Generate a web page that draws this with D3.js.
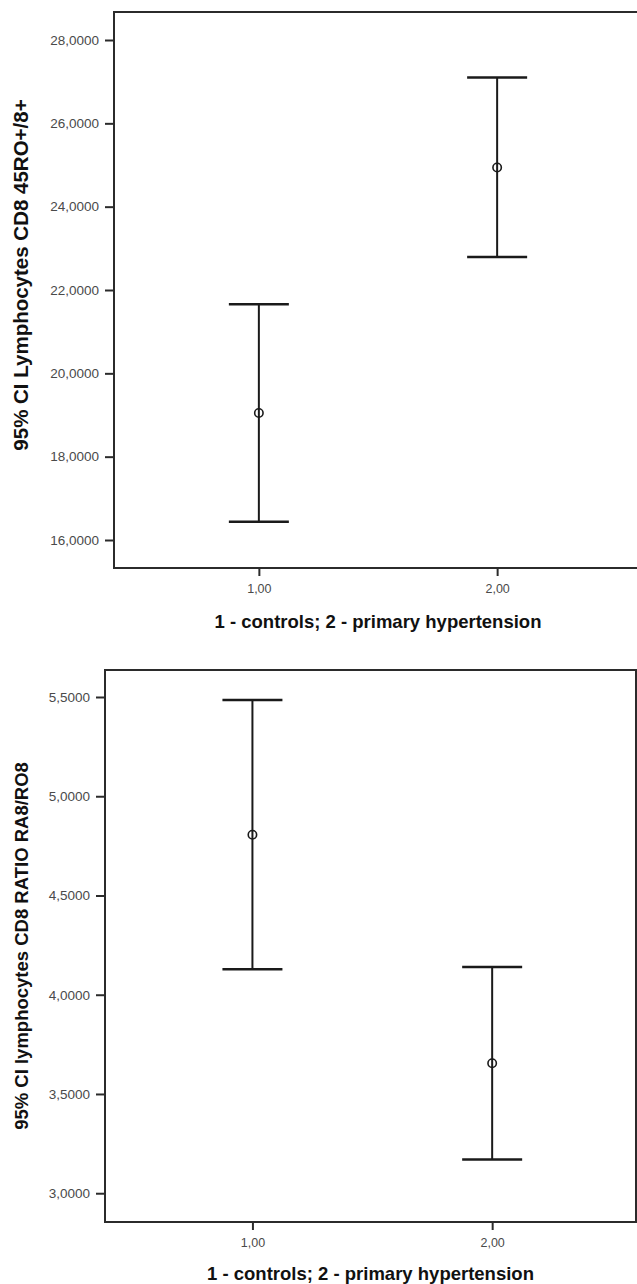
<!DOCTYPE html>
<html>
<head>
<meta charset="utf-8">
<script src="https://cdn.jsdelivr.net/npm/d3@7"></script>
<style>
  html, body { margin: 0; padding: 0; background: #ffffff; }
  svg { display: block; }
</style>
</head>
<body>
<svg id="chart" width="637" height="1284"></svg>
<script>
// ---------- data ----------
const categories = [1, 2];
const categoryLabels = ["1,00", "2,00"];
const xTitle = "1 - controls; 2 - primary hypertension";

// chart 1: 95% CI Lymphocytes CD8 45RO+/8+
const roTitle = "95% CI Lymphocytes CD8 45RO+/8+";
const roMean  = [19.05, 24.94];
const roLower = [16.44, 22.79];
const roUpper = [21.66, 27.10];
const roTicks = [16, 18, 20, 22, 24, 26, 28];

// chart 2: 95% CI lymphocytes CD8 RATIO RA8/RO8
const ratioTitle = "95% CI lymphocytes CD8 RATIO RA8/RO8";
const ratioMean  = [4.806, 3.655];
const ratioLower = [4.128, 3.170];
const ratioUpper = [5.485, 4.140];
const ratioTicks = [3.0, 3.5, 4.0, 4.5, 5.0, 5.5];

// ---------- drawing ----------
const svg = d3.select("#chart");
const fmt4 = d => d.toFixed(4).replace(".", ",");
const FONT = "Liberation Sans, Arial, Helvetica, sans-serif";

function drawPanel(o) {
  const g = svg.append("g");
  const x = d3.scaleLinear().domain(o.xDomain).range([o.left, o.right]);
  const y = d3.scaleLinear().domain(o.yDomain).range([o.bottom, o.top]);

  // frame
  g.append("rect")
    .attr("x", o.left).attr("y", o.top)
    .attr("width", o.right - o.left).attr("height", o.bottom - o.top)
    .attr("fill", "#ffffff")
    .attr("stroke", "#2b2b2b").attr("stroke-width", 2);

  // y axis
  const ya = g.append("g")
    .attr("transform", `translate(${o.left},0)`)
    .call(d3.axisLeft(y).tickValues(o.yTicks).tickFormat(fmt4).tickSize(9).tickPadding(6));
  ya.select(".domain").remove();
  ya.selectAll(".tick line").attr("stroke", "#2b2b2b").attr("stroke-width", 2);
  ya.selectAll(".tick text")
    .attr("fill", "#4a4a4a").style("font-family", FONT).style("font-size", "13.5px");

  // x axis
  const xa = g.append("g")
    .attr("transform", `translate(0,${o.bottom})`)
    .call(d3.axisBottom(x).tickValues(categories)
      .tickFormat((d, i) => categoryLabels[i]).tickSize(8).tickPadding(8));
  xa.select(".domain").remove();
  xa.selectAll(".tick line").attr("stroke", "#2b2b2b").attr("stroke-width", 2);
  xa.selectAll(".tick text")
    .attr("fill", "#4a4a4a").style("font-family", FONT).style("font-size", "12.5px");

  // axis titles
  g.append("text")
    .attr("x", (o.left + o.right) / 2).attr("y", o.xTitleY)
    .attr("text-anchor", "middle")
    .style("font-family", FONT).style("font-weight", "bold").style("font-size", "18.5px")
    .attr("fill", "#111").text(xTitle);

  g.append("text")
    .attr("transform", `translate(${o.yTitleX},${o.yTitleCenter}) rotate(-90)`)
    .attr("text-anchor", "middle")
    .style("font-family", FONT).style("font-weight", "bold").style("font-size", o.yTitleSize)
    .attr("fill", "#111").text(o.yTitle);

  // error bars
  const capHalf = 30;
  const bars = g.selectAll(".bar").data(categories).enter().append("g");
  bars.append("line")
    .attr("x1", d => x(d)).attr("x2", d => x(d))
    .attr("y1", (d, i) => y(o.upper[i])).attr("y2", (d, i) => y(o.lower[i]))
    .attr("stroke", "#1a1a1a").attr("stroke-width", 2);
  bars.append("line")
    .attr("x1", d => x(d) - capHalf).attr("x2", d => x(d) + capHalf)
    .attr("y1", (d, i) => y(o.upper[i])).attr("y2", (d, i) => y(o.upper[i]))
    .attr("stroke", "#1a1a1a").attr("stroke-width", 2.5);
  bars.append("line")
    .attr("x1", d => x(d) - capHalf).attr("x2", d => x(d) + capHalf)
    .attr("y1", (d, i) => y(o.lower[i])).attr("y2", (d, i) => y(o.lower[i]))
    .attr("stroke", "#1a1a1a").attr("stroke-width", 2.5);
  bars.append("circle")
    .attr("cx", d => x(d)).attr("cy", (d, i) => y(o.mean[i]))
    .attr("r", 4.2)
    .attr("fill", "none").attr("stroke", "#1a1a1a").attr("stroke-width", 1.6);
}

drawPanel({
  left: 114, right: 642, top: 12, bottom: 568,
  xDomain: [0.392, 2.608], yDomain: [15.328, 28.672],
  yTicks: roTicks, mean: roMean, lower: roLower, upper: roUpper,
  yTitle: roTitle, yTitleX: 28, yTitleCenter: 275, yTitleSize: "20.5px",
  xTitleY: 628
});

drawPanel({
  left: 105, right: 636, top: 670, bottom: 1222,
  xDomain: [0.385, 2.6], yDomain: [2.855, 5.636],
  yTicks: ratioTicks, mean: ratioMean, lower: ratioLower, upper: ratioUpper,
  yTitle: ratioTitle, yTitleX: 28, yTitleCenter: 946, yTitleSize: "18.5px",
  xTitleY: 1280
});
</script>
</body>
</html>
